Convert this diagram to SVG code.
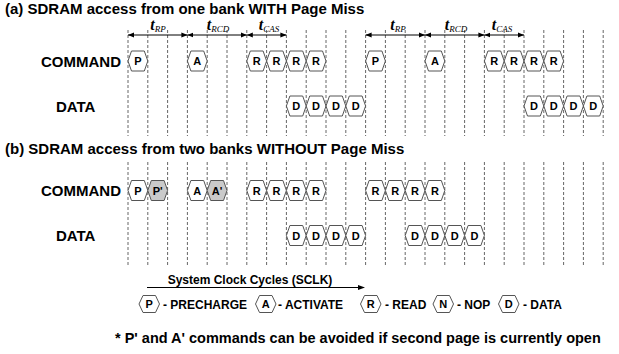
<svg xmlns="http://www.w3.org/2000/svg" xmlns:xlink="http://www.w3.org/1999/xlink" width="619" height="354" viewBox="0 0 619 354">
  <style>
    .title { font-family: "Liberation Sans", Arial, sans-serif; font-weight: bold; font-size: 15px; fill: #000; }
    .rowlbl { font-family: "Liberation Sans", Arial, sans-serif; font-weight: bold; font-size: 15px; fill: #000; }
    .cell { fill: #fff; stroke: #555; stroke-width: 1; }
    .cell.shade { fill: url(#stipple); }
    .ct { font-family: "Liberation Sans", Arial, sans-serif; font-weight: bold; font-size: 11px; text-anchor: middle; fill: #000; }
    .grid line { stroke: #666; stroke-width: 1; stroke-dasharray: 3 2; }
    .tarrow { stroke: #000; stroke-width: 1; marker-start: url(#head); marker-end: url(#head); }
    .tl { font-family: "Liberation Serif", "Times New Roman", serif; font-style: italic; text-anchor: middle; fill: #000; }
    .tl .t { font-weight: bold; font-size: 16px; }
    .tl .s { font-size: 9px; }
    .leg { font-family: "Liberation Sans", Arial, sans-serif; font-weight: bold; font-size: 12px; fill: #000; }
    .note { font-family: "Liberation Sans", Arial, sans-serif; font-weight: bold; font-size: 14.5px; fill: #000; }
  </style>
  <defs>
    <pattern id="stipple" width="2" height="2" patternUnits="userSpaceOnUse">
      <rect width="2" height="2" fill="#ececec"/>
      <rect width="1" height="1" fill="#a8a8a8"/>
      <rect x="1" y="1" width="1" height="1" fill="#a8a8a8"/>
    </pattern>
    <marker id="head" viewBox="0 0 6 6" refX="6" refY="3" markerWidth="6" markerHeight="6" markerUnits="userSpaceOnUse" orient="auto-start-reverse">
      <path d="M0,0.5 L6,3 L0,5.5 Z" fill="#000"/>
    </marker>
    <!-- one clock-cycle cell, origin at its left point -->
    <path id="hex" d="M0,0 L3.5,-10 L16.3,-10 L19.8,0 L16.3,10 L3.5,10 Z"/>
    <path id="hexs" d="M0,0 L4,-8.5 L16.5,-8.5 L20.5,0 L16.5,8.5 L4,8.5 Z"/>
  </defs>

  <rect width="619" height="354" fill="#fff"/>

  <!-- section titles -->
  <text class="title" x="5" y="14">(a) SDRAM access from one bank WITH Page Miss</text>
  <text class="title" x="5" y="154">(b) SDRAM access from two banks WITHOUT Page Miss</text>

  <!-- clock grid, pitch 19.8 -->
  <g class="grid" id="grid-a">
    <line x1="128" y1="30" x2="128" y2="136"/><line x1="147.8" y1="30" x2="147.8" y2="136"/>
    <line x1="167.6" y1="30" x2="167.6" y2="136"/><line x1="187.4" y1="30" x2="187.4" y2="136"/>
    <line x1="207.2" y1="30" x2="207.2" y2="136"/><line x1="227" y1="30" x2="227" y2="136"/>
    <line x1="246.8" y1="30" x2="246.8" y2="136"/><line x1="266.6" y1="30" x2="266.6" y2="136"/>
    <line x1="286.4" y1="30" x2="286.4" y2="136"/><line x1="306.2" y1="30" x2="306.2" y2="136"/>
    <line x1="326" y1="30" x2="326" y2="136"/><line x1="345.8" y1="30" x2="345.8" y2="136"/>
    <line x1="365.6" y1="30" x2="365.6" y2="136"/><line x1="385.4" y1="30" x2="385.4" y2="136"/>
    <line x1="405.2" y1="30" x2="405.2" y2="136"/><line x1="425" y1="30" x2="425" y2="136"/>
    <line x1="444.8" y1="30" x2="444.8" y2="136"/><line x1="464.6" y1="30" x2="464.6" y2="136"/>
    <line x1="484.4" y1="30" x2="484.4" y2="136"/><line x1="504.2" y1="30" x2="504.2" y2="136"/>
    <line x1="524" y1="30" x2="524" y2="136"/><line x1="543.8" y1="30" x2="543.8" y2="136"/>
    <line x1="563.6" y1="30" x2="563.6" y2="136"/><line x1="583.4" y1="30" x2="583.4" y2="136"/>
    <line x1="603.2" y1="30" x2="603.2" y2="136"/>
  </g>
  <g class="grid" id="grid-b">
    <line x1="128" y1="162" x2="128" y2="266"/><line x1="147.8" y1="162" x2="147.8" y2="266"/>
    <line x1="167.6" y1="162" x2="167.6" y2="266"/><line x1="187.4" y1="162" x2="187.4" y2="266"/>
    <line x1="207.2" y1="162" x2="207.2" y2="266"/><line x1="227" y1="162" x2="227" y2="266"/>
    <line x1="246.8" y1="162" x2="246.8" y2="266"/><line x1="266.6" y1="162" x2="266.6" y2="266"/>
    <line x1="286.4" y1="162" x2="286.4" y2="266"/><line x1="306.2" y1="162" x2="306.2" y2="266"/>
    <line x1="326" y1="162" x2="326" y2="266"/><line x1="345.8" y1="162" x2="345.8" y2="266"/>
    <line x1="365.6" y1="162" x2="365.6" y2="266"/><line x1="385.4" y1="162" x2="385.4" y2="266"/>
    <line x1="405.2" y1="162" x2="405.2" y2="266"/><line x1="425" y1="162" x2="425" y2="266"/>
    <line x1="444.8" y1="162" x2="444.8" y2="266"/><line x1="464.6" y1="162" x2="464.6" y2="266"/>
    <line x1="484.4" y1="162" x2="484.4" y2="266"/><line x1="504.2" y1="162" x2="504.2" y2="266"/>
    <line x1="524" y1="162" x2="524" y2="266"/><line x1="543.8" y1="162" x2="543.8" y2="266"/>
    <line x1="563.6" y1="162" x2="563.6" y2="266"/><line x1="583.4" y1="162" x2="583.4" y2="266"/>
    <line x1="603.2" y1="162" x2="603.2" y2="266"/>
  </g>

  <!-- timing intervals -->
  <g id="connectors">
    <line class="tarrow" x1="128" y1="35" x2="187.4" y2="35"/>
    <line class="tarrow" x1="187.4" y1="35" x2="246.8" y2="35"/>
    <line class="tarrow" x1="246.8" y1="35" x2="286.4" y2="35"/>
    <line class="tarrow" x1="365.6" y1="35" x2="425" y2="35"/>
    <line class="tarrow" x1="425" y1="35" x2="484.4" y2="35"/>
    <line class="tarrow" x1="484.4" y1="35" x2="524" y2="35"/>
    <line x1="147" y1="287.5" x2="359" y2="287.5" stroke="#000" stroke-width="1"/>
    <path d="M365,287.5 L358,285 L358,290 Z" fill="#000"/>
  </g>
  <g id="timing-labels">
    <text class="tl" x="158" y="30"><tspan class="t">t</tspan><tspan class="s" dy="2">RP</tspan></text>
    <text class="tl" x="218" y="30"><tspan class="t">t</tspan><tspan class="s" dy="2">RCD</tspan></text>
    <text class="tl" x="269" y="30"><tspan class="t">t</tspan><tspan class="s" dy="2">CAS</tspan></text>
    <text class="tl" x="398" y="30"><tspan class="t">t</tspan><tspan class="s" dy="2">RP</tspan></text>
    <text class="tl" x="456" y="30"><tspan class="t">t</tspan><tspan class="s" dy="2">RCD</tspan></text>
    <text class="tl" x="502" y="30"><tspan class="t">t</tspan><tspan class="s" dy="2">CAS</tspan></text>
  </g>

  <!-- row labels -->
  <text class="rowlbl" x="41" y="66.5">COMMAND</text>
  <text class="rowlbl" x="56" y="111.5">DATA</text>
  <text class="rowlbl" x="41" y="196">COMMAND</text>
  <text class="rowlbl" x="56" y="241">DATA</text>

  <!-- (a) command row -->
  <g id="a-cmd-p1"><use href="#hex" class="cell" x="128" y="61"/><text class="ct" x="137.9" y="65">P</text></g>
  <g id="a-cmd-a1"><use href="#hex" class="cell" x="187.4" y="61"/><text class="ct" x="197.3" y="65">A</text></g>
  <g id="a-cmd-r1"><use href="#hex" class="cell" x="246.8" y="61"/><text class="ct" x="256.7" y="65">R</text></g>
  <g id="a-cmd-r2"><use href="#hex" class="cell" x="266.6" y="61"/><text class="ct" x="276.5" y="65">R</text></g>
  <g id="a-cmd-r3"><use href="#hex" class="cell" x="286.4" y="61"/><text class="ct" x="296.3" y="65">R</text></g>
  <g id="a-cmd-r4"><use href="#hex" class="cell" x="306.2" y="61"/><text class="ct" x="316.1" y="65">R</text></g>
  <g id="a-cmd-p2"><use href="#hex" class="cell" x="365.6" y="61"/><text class="ct" x="375.5" y="65">P</text></g>
  <g id="a-cmd-a2"><use href="#hex" class="cell" x="425" y="61"/><text class="ct" x="434.9" y="65">A</text></g>
  <g id="a-cmd-r5"><use href="#hex" class="cell" x="484.4" y="61"/><text class="ct" x="494.3" y="65">R</text></g>
  <g id="a-cmd-r6"><use href="#hex" class="cell" x="504.2" y="61"/><text class="ct" x="514.1" y="65">R</text></g>
  <g id="a-cmd-r7"><use href="#hex" class="cell" x="524" y="61"/><text class="ct" x="533.9" y="65">R</text></g>
  <g id="a-cmd-r8"><use href="#hex" class="cell" x="543.8" y="61"/><text class="ct" x="553.7" y="65">R</text></g>

  <!-- (a) data row -->
  <g id="a-dat-d1"><use href="#hex" class="cell" x="286.4" y="106"/><text class="ct" x="296.3" y="110">D</text></g>
  <g id="a-dat-d2"><use href="#hex" class="cell" x="306.2" y="106"/><text class="ct" x="316.1" y="110">D</text></g>
  <g id="a-dat-d3"><use href="#hex" class="cell" x="326" y="106"/><text class="ct" x="335.9" y="110">D</text></g>
  <g id="a-dat-d4"><use href="#hex" class="cell" x="345.8" y="106"/><text class="ct" x="355.7" y="110">D</text></g>
  <g id="a-dat-d5"><use href="#hex" class="cell" x="524" y="106"/><text class="ct" x="533.9" y="110">D</text></g>
  <g id="a-dat-d6"><use href="#hex" class="cell" x="543.8" y="106"/><text class="ct" x="553.7" y="110">D</text></g>
  <g id="a-dat-d7"><use href="#hex" class="cell" x="563.6" y="106"/><text class="ct" x="573.5" y="110">D</text></g>
  <g id="a-dat-d8"><use href="#hex" class="cell" x="583.4" y="106"/><text class="ct" x="593.3" y="110">D</text></g>

  <!-- (b) command row -->
  <g id="b-cmd-p"><use href="#hex" class="cell" x="128" y="190.5"/><text class="ct" x="137.9" y="194.5">P</text></g>
  <g id="b-cmd-p2"><use href="#hex" class="cell shade" x="147.8" y="190.5"/><text class="ct" x="157.7" y="194.5">P'</text></g>
  <g id="b-cmd-a"><use href="#hex" class="cell" x="187.4" y="190.5"/><text class="ct" x="197.3" y="194.5">A</text></g>
  <g id="b-cmd-a2"><use href="#hex" class="cell shade" x="207.2" y="190.5"/><text class="ct" x="217.1" y="194.5">A'</text></g>
  <g id="b-cmd-r1"><use href="#hex" class="cell" x="246.8" y="190.5"/><text class="ct" x="256.7" y="194.5">R</text></g>
  <g id="b-cmd-r2"><use href="#hex" class="cell" x="266.6" y="190.5"/><text class="ct" x="276.5" y="194.5">R</text></g>
  <g id="b-cmd-r3"><use href="#hex" class="cell" x="286.4" y="190.5"/><text class="ct" x="296.3" y="194.5">R</text></g>
  <g id="b-cmd-r4"><use href="#hex" class="cell" x="306.2" y="190.5"/><text class="ct" x="316.1" y="194.5">R</text></g>
  <g id="b-cmd-r5"><use href="#hex" class="cell" x="365.6" y="190.5"/><text class="ct" x="375.5" y="194.5">R</text></g>
  <g id="b-cmd-r6"><use href="#hex" class="cell" x="385.4" y="190.5"/><text class="ct" x="395.3" y="194.5">R</text></g>
  <g id="b-cmd-r7"><use href="#hex" class="cell" x="405.2" y="190.5"/><text class="ct" x="415.1" y="194.5">R</text></g>
  <g id="b-cmd-r8"><use href="#hex" class="cell" x="425" y="190.5"/><text class="ct" x="434.9" y="194.5">R</text></g>

  <!-- (b) data row -->
  <g id="b-dat-d1"><use href="#hex" class="cell" x="286.4" y="235.5"/><text class="ct" x="296.3" y="239.5">D</text></g>
  <g id="b-dat-d2"><use href="#hex" class="cell" x="306.2" y="235.5"/><text class="ct" x="316.1" y="239.5">D</text></g>
  <g id="b-dat-d3"><use href="#hex" class="cell" x="326" y="235.5"/><text class="ct" x="335.9" y="239.5">D</text></g>
  <g id="b-dat-d4"><use href="#hex" class="cell" x="345.8" y="235.5"/><text class="ct" x="355.7" y="239.5">D</text></g>
  <g id="b-dat-d5"><use href="#hex" class="cell" x="405.2" y="235.5"/><text class="ct" x="415.1" y="239.5">D</text></g>
  <g id="b-dat-d6"><use href="#hex" class="cell" x="425" y="235.5"/><text class="ct" x="434.9" y="239.5">D</text></g>
  <g id="b-dat-d7"><use href="#hex" class="cell" x="444.8" y="235.5"/><text class="ct" x="454.7" y="239.5">D</text></g>
  <g id="b-dat-d8"><use href="#hex" class="cell" x="464.6" y="235.5"/><text class="ct" x="474.5" y="239.5">D</text></g>

  <!-- clock axis and legend -->
  <text class="leg" x="250" y="284" text-anchor="middle" font-size="11.5">System Clock Cycles (SCLK)</text>
  <g id="leg-p"><use href="#hexs" class="cell" x="139" y="304"/><text class="ct" x="149.2" y="308">P</text><text class="leg" x="163" y="308.5">- PRECHARGE</text></g>
  <g id="leg-a"><use href="#hexs" class="cell" x="255.5" y="304"/><text class="ct" x="265.7" y="308">A</text><text class="leg" x="278" y="308.5">- ACTIVATE</text></g>
  <g id="leg-r"><use href="#hexs" class="cell" x="360.5" y="304"/><text class="ct" x="370.7" y="308">R</text><text class="leg" x="385" y="308.5">- READ</text></g>
  <g id="leg-n"><use href="#hexs" class="cell" x="433" y="304"/><text class="ct" x="443.2" y="308">N</text><text class="leg" x="457" y="308.5">- NOP</text></g>
  <g id="leg-d"><use href="#hexs" class="cell" x="498.5" y="304"/><text class="ct" x="508.7" y="308">D</text><text class="leg" x="523" y="308.5">- DATA</text></g>

  <text class="note" x="115" y="343">* P' and A' commands can be avoided if second page is currently open</text>
</svg>
